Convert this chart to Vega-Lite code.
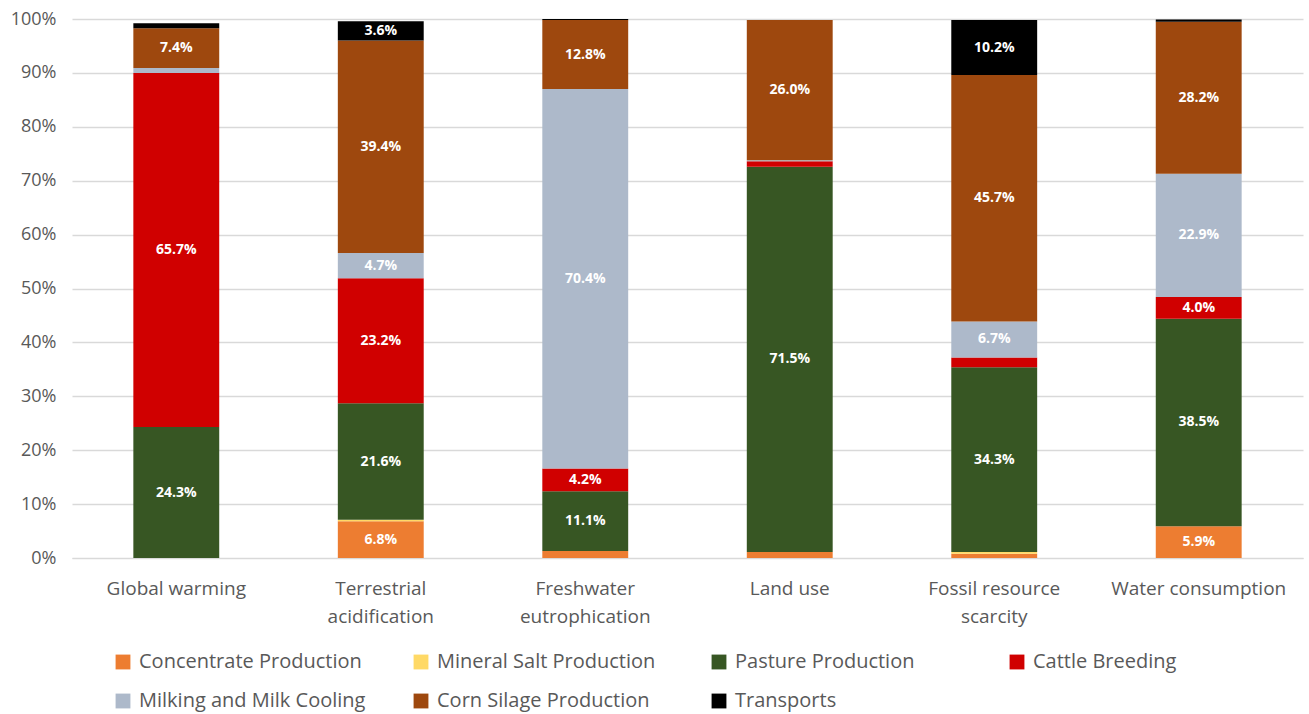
{
  "$schema": "https://vega.github.io/schema/vega-lite/v6.json",
  "width": 1309,
  "height": 714,
  "autosize": {"type": "fit", "contains": "padding"},
  "padding": {"left": 10, "right": 6, "top": 10, "bottom": 3},
  "background": "white",
  "config": {
    "view": {"stroke": null},
    "font": "Open Sans"
  },
  "data": {
    "values": [
      {"cat": "Global warming", "s": "Concentrate Production", "k": 1, "v": 0.0},
      {"cat": "Global warming", "s": "Mineral Salt Production", "k": 2, "v": 0.0},
      {"cat": "Global warming", "s": "Pasture Production", "k": 3, "v": 0.243},
      {"cat": "Global warming", "s": "Cattle Breeding", "k": 4, "v": 0.657},
      {"cat": "Global warming", "s": "Milking and Milk Cooling", "k": 5, "v": 0.009},
      {"cat": "Global warming", "s": "Corn Silage Production", "k": 6, "v": 0.074},
      {"cat": "Global warming", "s": "Transports", "k": 7, "v": 0.009},
      {"cat": "Terrestrial acidification", "s": "Concentrate Production", "k": 1, "v": 0.068},
      {"cat": "Terrestrial acidification", "s": "Mineral Salt Production", "k": 2, "v": 0.003},
      {"cat": "Terrestrial acidification", "s": "Pasture Production", "k": 3, "v": 0.216},
      {"cat": "Terrestrial acidification", "s": "Cattle Breeding", "k": 4, "v": 0.232},
      {"cat": "Terrestrial acidification", "s": "Milking and Milk Cooling", "k": 5, "v": 0.047},
      {"cat": "Terrestrial acidification", "s": "Corn Silage Production", "k": 6, "v": 0.394},
      {"cat": "Terrestrial acidification", "s": "Transports", "k": 7, "v": 0.036},
      {"cat": "Freshwater eutrophication", "s": "Concentrate Production", "k": 1, "v": 0.013},
      {"cat": "Freshwater eutrophication", "s": "Mineral Salt Production", "k": 2, "v": 0.0},
      {"cat": "Freshwater eutrophication", "s": "Pasture Production", "k": 3, "v": 0.111},
      {"cat": "Freshwater eutrophication", "s": "Cattle Breeding", "k": 4, "v": 0.042},
      {"cat": "Freshwater eutrophication", "s": "Milking and Milk Cooling", "k": 5, "v": 0.704},
      {"cat": "Freshwater eutrophication", "s": "Corn Silage Production", "k": 6, "v": 0.128},
      {"cat": "Freshwater eutrophication", "s": "Transports", "k": 7, "v": 0.002},
      {"cat": "Land use", "s": "Concentrate Production", "k": 1, "v": 0.011},
      {"cat": "Land use", "s": "Mineral Salt Production", "k": 2, "v": 0.0},
      {"cat": "Land use", "s": "Pasture Production", "k": 3, "v": 0.715},
      {"cat": "Land use", "s": "Cattle Breeding", "k": 4, "v": 0.01},
      {"cat": "Land use", "s": "Milking and Milk Cooling", "k": 5, "v": 0.002},
      {"cat": "Land use", "s": "Corn Silage Production", "k": 6, "v": 0.26},
      {"cat": "Land use", "s": "Transports", "k": 7, "v": 0.0},
      {"cat": "Fossil resource scarcity", "s": "Concentrate Production", "k": 1, "v": 0.008},
      {"cat": "Fossil resource scarcity", "s": "Mineral Salt Production", "k": 2, "v": 0.003},
      {"cat": "Fossil resource scarcity", "s": "Pasture Production", "k": 3, "v": 0.343},
      {"cat": "Fossil resource scarcity", "s": "Cattle Breeding", "k": 4, "v": 0.018},
      {"cat": "Fossil resource scarcity", "s": "Milking and Milk Cooling", "k": 5, "v": 0.067},
      {"cat": "Fossil resource scarcity", "s": "Corn Silage Production", "k": 6, "v": 0.457},
      {"cat": "Fossil resource scarcity", "s": "Transports", "k": 7, "v": 0.102},
      {"cat": "Water consumption", "s": "Concentrate Production", "k": 1, "v": 0.059},
      {"cat": "Water consumption", "s": "Mineral Salt Production", "k": 2, "v": 0.0},
      {"cat": "Water consumption", "s": "Pasture Production", "k": 3, "v": 0.385},
      {"cat": "Water consumption", "s": "Cattle Breeding", "k": 4, "v": 0.04},
      {"cat": "Water consumption", "s": "Milking and Milk Cooling", "k": 5, "v": 0.229},
      {"cat": "Water consumption", "s": "Corn Silage Production", "k": 6, "v": 0.282},
      {"cat": "Water consumption", "s": "Transports", "k": 7, "v": 0.004}
    ]
  },
  "transform": [
    {"stack": "v", "groupby": ["cat"], "sort": [{"field": "k", "order": "ascending"}], "as": ["y0", "y1"]},
    {"calculate": "(datum.y0 + datum.y1) / 2", "as": "ym"}
  ],
  "encoding": {
    "x": {
      "field": "cat",
      "type": "nominal",
      "sort": null,
      "scale": {"paddingInner": 0.58, "paddingOuter": 0.3},
      "axis": {
        "title": null,
        "labelAngle": 0,
        "labelFontSize": 19,
        "labelColor": "#595959",
        "labelPadding": 21,
        "ticks": false,
        "domainColor": "#d9d9d9",
        "labelLineHeight": 28,
        "labelExpr": "datum.label == 'Terrestrial acidification' ? ['Terrestrial', 'acidification'] : datum.label == 'Freshwater eutrophication' ? ['Freshwater', 'eutrophication'] : datum.label == 'Fossil resource scarcity' ? ['Fossil resource', 'scarcity'] : datum.label"
      }
    }
  },
  "layer": [
    {
      "mark": {"type": "bar"},
      "encoding": {
        "y": {
          "field": "y0",
          "type": "quantitative",
          "scale": {"domain": [0, 1], "nice": false},
          "axis": {
            "title": null,
            "format": ".0%",
            "values": [0, 0.1, 0.2, 0.3, 0.4, 0.5, 0.6, 0.7, 0.8, 0.9, 1.0],
            "labelOverlap": false,
            "labelFontSize": 18,
            "labelColor": "#595959",
            "labelPadding": 16,
            "domain": false,
            "ticks": false,
            "gridColor": "#d9d9d9",
            "gridWidth": 1.5
          }
        },
        "y2": {"field": "y1"},
        "color": {
          "field": "s",
          "type": "nominal",
          "scale": {
            "domain": ["Concentrate Production", "Mineral Salt Production", "Pasture Production", "Cattle Breeding", "Milking and Milk Cooling", "Corn Silage Production", "Transports"],
            "range": ["#ED7D31", "#FFD966", "#375623", "#D00000", "#ADB9CA", "#9E480E", "#000000"]
          },
          "legend": {
            "title": " ",
            "titleOrient": "left",
            "titleFontSize": 2,
            "titlePadding": 41,
            "orient": "bottom",
            "columns": 4,
            "direction": "horizontal",
            "symbolType": "square",
            "symbolSize": 220,
            "symbolStrokeWidth": 0,
            "labelFontSize": 20,
            "labelColor": "#595959",
            "labelLimit": 300,
            "gridAlign": "all",
            "columnPadding": 45,
            "rowPadding": 19,
            "offset": 26,
            "labelOffset": 6
          }
        }
      }
    },
    {
      "transform": [{"filter": "datum.v >= 0.035"}],
      "mark": {"type": "text", "color": "white", "fontWeight": "bold", "fontSize": 14, "baseline": "middle"},
      "encoding": {
        "y": {"field": "ym", "type": "quantitative"},
        "text": {"field": "v", "type": "quantitative", "format": ".1%"}
      }
    }
  ]
}
